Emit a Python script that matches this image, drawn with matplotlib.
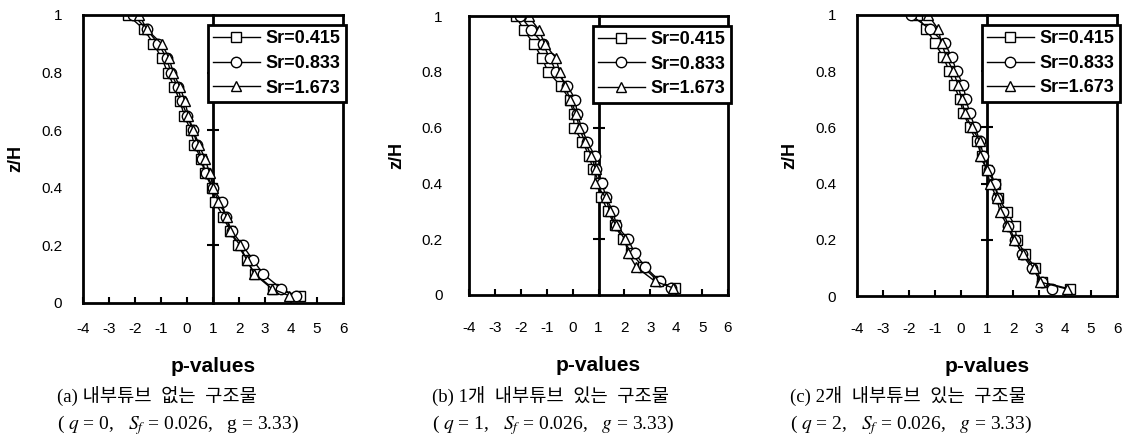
import matplotlib

matplotlib.use("Agg")
import matplotlib.pyplot as plt
import numpy as np

plt.rcParams["font.family"] = ["Liberation Sans", "DejaVu Sans"]
plt.rcParams["mathtext.fontset"] = "stix"

# z/H levels shared by every series
z_h = [1.0, 0.95, 0.9, 0.85, 0.8, 0.75, 0.7, 0.65, 0.6, 0.55, 0.5,
       0.45, 0.4, 0.35, 0.3, 0.25, 0.2, 0.15, 0.1, 0.05, 0.025]

series_labels = ["Sr=0.415", "Sr=0.833", "Sr=1.673"]
series_markers = ["s", "o", "^"]

# (a) no inner tube
a_sr0415 = [-2.28, -1.65, -1.29, -0.97, -0.74, -0.49, -0.27, -0.10, 0.14, 0.28, 0.54,
            0.69, 0.97, 1.08, 1.40, 1.65, 1.97, 2.29, 2.62, 3.32, 4.35]
a_sr0833 = [-2.06, -1.55, -1.10, -0.78, -0.62, -0.36, -0.21, 0.01, 0.22, 0.40, 0.56,
            0.73, 1.01, 1.33, 1.50, 1.72, 2.14, 2.53, 2.94, 3.62, 4.18]
a_sr1673 = [-1.83, -1.55, -0.97, -0.69, -0.53, -0.27, -0.08, 0.05, 0.24, 0.46, 0.69,
            0.88, 1.01, 1.21, 1.53, 1.65, 2.04, 2.29, 2.59, 3.26, 3.94]

# (b) one inner tube
b_sr0415 = [-2.20, -1.88, -1.50, -1.18, -0.95, -0.46, -0.11, 0.04, 0.05, 0.38, 0.63,
            0.79, 1.05, 1.11, 1.37, 1.62, 1.95, 2.27, 2.72, 3.30, 3.94]
b_sr0833 = [-2.02, -1.59, -1.14, -0.89, -0.63, -0.20, 0.11, 0.17, 0.35, 0.56, 0.85,
            0.92, 1.15, 1.28, 1.56, 1.69, 2.14, 2.40, 2.81, 3.36, 3.81]
b_sr1673 = [-1.70, -1.30, -1.08, -0.65, -0.50, -0.30, -0.09, 0.14, 0.25, 0.47, 0.72,
            0.89, 0.85, 1.28, 1.43, 1.66, 2.01, 2.14, 2.46, 3.17, 3.88]

# (c) two inner tubes
c_sr0415 = [-1.71, -1.33, -1.01, -0.68, -0.45, -0.27, -0.04, 0.09, 0.34, 0.60, 0.79,
            0.99, 1.31, 1.44, 1.76, 2.08, 2.14, 2.47, 2.85, 3.11, 4.18]
c_sr0833 = [-1.93, -1.20, -0.62, -0.36, -0.17, 0.09, 0.19, 0.34, 0.54, 0.73, 0.86,
            1.09, 1.31, 1.40, 1.63, 1.82, 2.08, 2.34, 2.72, 3.11, 3.49]
c_sr1673 = [-1.26, -0.88, -0.75, -0.56, -0.30, -0.11, 0.02, 0.15, 0.41, 0.73, 0.73,
            0.99, 1.12, 1.37, 1.50, 1.78, 2.02, 2.40, 2.79, 3.04, 4.07]

panel_data = [
    [a_sr0415, a_sr0833, a_sr1673],
    [b_sr0415, b_sr0833, b_sr1673],
    [c_sr0415, c_sr0833, c_sr1673],
]
captions = ["(a) 내부튜브  없는  구조물",
            "(b) 1개  내부튜브  있는  구조물",
            "(c) 2개  내부튜브  있는  구조물"]
conditions = [r"( $q$ = 0,   $S_f$ = 0.026,   g = 3.33)",
              r"( $q$ = 1,   $S_f$ = 0.026,   $g$ = 3.33)",
              r"( $q$ = 2,   $S_f$ = 0.026,   $g$ = 3.33)"]
x_ticks = np.arange(-4, 7, 1)
y_ticks = [0, 0.2, 0.4, 0.6, 0.8, 1]

W, H = 1127, 441
fig = plt.figure(figsize=(W / 100, H / 100), dpi=100)

# axes boxes in pixels: left, top, right, bottom
boxes = [(83, 15, 343, 303), (469, 16, 728, 295), (857, 15, 1117, 296)]
caption_x = [57, 432, 790]

for i, (l, t, r, b) in enumerate(boxes):
    ax = fig.add_axes([l / W, 1 - b / H, (r - l) / W, (b - t) / H])
    for vals, mk, lab in zip(panel_data[i], series_markers, series_labels):
        ax.plot(vals, z_h, color="black", lw=1.0, marker=mk, ms=7.5,
                mfc="white", mec="black", mew=1.0, label=lab)
    ax.set_xlim(-4, 6)
    ax.set_ylim(0, 1)
    ax.set_xticks(x_ticks)
    ax.set_xticklabels([str(v) for v in x_ticks])
    ax.set_yticks(y_ticks)
    ax.set_yticklabels(["0", "0.2", "0.4", "0.6", "0.8", "1"])
    ax.tick_params(axis="y", length=0, pad=15 if i != 1 else 19, labelsize=11)
    xpad = 14 if i == 0 else 19
    ax.tick_params(axis="x", direction="in", length=4, width=1.5, pad=xpad, labelsize=11)
    for sp in ax.spines.values():
        sp.set_linewidth(2)

    # y axis crossing at p = 1
    sec = ax.secondary_yaxis(0.5)
    sec.set_yticks([0.2, 0.4, 0.6, 0.8])
    sec.set_yticklabels([])
    sec.tick_params(direction="inout", length=8, width=1.5)
    sec.spines["right"].set_linewidth(2)
    sec.spines["left"].set_linewidth(2)

    ax.set_ylabel("z/H", fontweight="bold", fontsize=13, labelpad=12)
    ax.set_xlabel("p-values", fontweight="bold", fontsize=15, labelpad=15)

    leg = ax.legend(loc="upper right", bbox_to_anchor=(1.01, 0.965), fontsize=13,
                    frameon=True, fancybox=False, handlelength=2.6, handletextpad=0.3,
                    borderpad=0.3, labelspacing=0.42, borderaxespad=0, framealpha=1)
    leg.get_frame().set_edgecolor("black")
    leg.get_frame().set_linewidth(2)
    for txt in leg.get_texts():
        txt.set_fontweight("bold")

    fig.text(caption_x[i] / W, 1 - 397 / H, captions[i], ha="left", va="center",
             fontsize=13.5, family=["Liberation Serif", "Noto Sans CJK KR"])
    fig.text(caption_x[i] / W, 1 - 425 / H, conditions[i], ha="left", va="center",
             fontsize=14, family=["Liberation Serif"])

fig.savefig("out.png", dpi=100)
